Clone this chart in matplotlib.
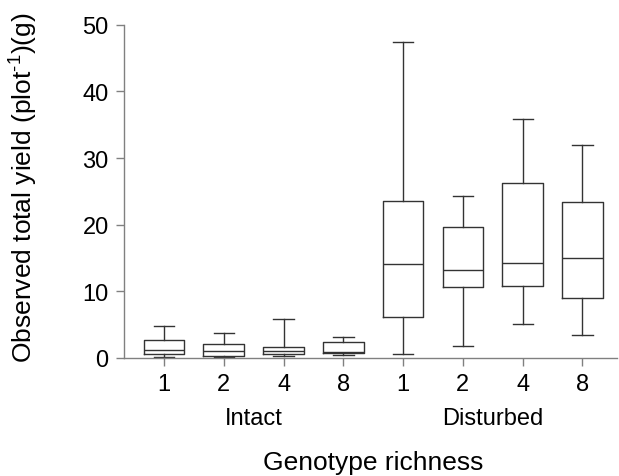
import matplotlib
matplotlib.use('Agg')
import matplotlib.pyplot as plt

plt.rcParams['font.family'] = ['Liberation Sans', 'DejaVu Sans']
plt.rcParams['mathtext.fontset'] = 'custom'
plt.rcParams['mathtext.rm'] = 'Liberation Sans'
plt.rcParams['mathtext.it'] = 'Liberation Sans'

# box statistics (g per plot)
groups = ['Intact', 'Disturbed']
richness = ['1', '2', '4', '8', '1', '2', '4', '8']
whislo = [0.1, 0.05, 0.2, 0.45, 0.6, 1.75, 5.1, 3.4]
q1 = [0.6, 0.25, 0.55, 0.65, 6.1, 10.6, 10.7, 9.0]
med = [1.1, 1.0, 0.95, 0.85, 14.0, 13.2, 14.2, 14.9]
q3 = [2.65, 2.0, 1.6, 2.4, 23.5, 19.6, 26.2, 23.4]
whishi = [4.8, 3.7, 5.8, 3.1, 47.5, 24.3, 35.9, 32.0]

stats = []
for i in range(len(richness)):
    stats.append({'whislo': whislo[i], 'q1': q1[i], 'med': med[i],
                  'q3': q3[i], 'whishi': whishi[i], 'fliers': []})

fig = plt.figure(figsize=(6.19, 4.77), dpi=100)
ax = fig.add_axes([0.2003, 0.2484, 0.7967, 0.6971])

line_col = '#333333'
pos = list(range(len(richness)))
ax.bxp(stats, positions=pos, widths=0.68, showfliers=False,
       boxprops=dict(color=line_col, linewidth=1.0),
       whiskerprops=dict(color=line_col, linewidth=1.0),
       capprops=dict(color=line_col, linewidth=1.0),
       medianprops=dict(color=line_col, linewidth=1.0))

ax.set_xlim(-0.67, 7.58)
ax.set_ylim(0, 50)
ax.set_yticks([0, 10, 20, 30, 40, 50])
ax.set_xticks(pos)
ax.set_xticklabels(richness)

for s in ['top', 'right']:
    ax.spines[s].set_visible(False)
for s in ['left', 'bottom']:
    ax.spines[s].set_color('#808080')
    ax.spines[s].set_linewidth(1.0)
ax.tick_params(axis='both', colors='#808080', length=6, width=1.0,
               labelsize=17, labelcolor='black', pad=5)

# group labels under the tick labels
tr = ax.get_xaxis_transform()
ax.text(1.5, -0.2, groups[0], transform=tr, ha='center', va='baseline', fontsize=17)
ax.text(5.5, -0.2, groups[1], transform=tr, ha='center', va='baseline', fontsize=17)

fig.text(373.5 / 619, 7 / 477, 'Genotype richness', ha='center', va='baseline', fontsize=19)
fig.text(24 / 619, 0.607, 'Observed total yield (plot$^{\u2010 1}$)(g)', rotation=90,
         ha='center', va='center', fontsize=19)

fig.savefig('out.png', dpi=100)
